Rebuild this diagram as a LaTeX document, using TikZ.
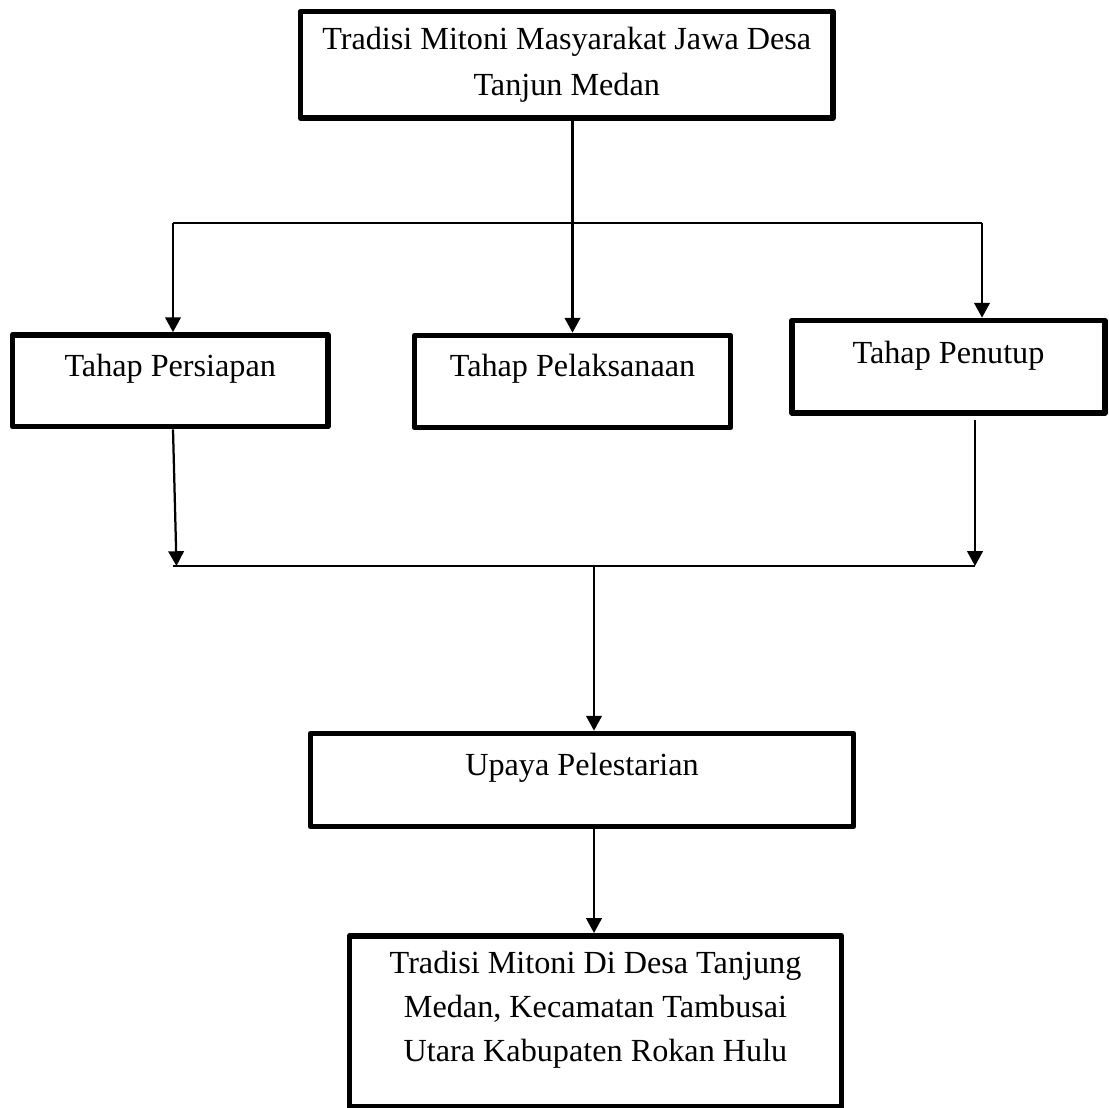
\documentclass[tikz,border=0pt]{standalone}
\usepackage{fontspec}
\setmainfont{Liberation Serif}
\usepackage{tikz}
\usetikzlibrary{arrows.meta}
\newdimen\pxu
\pxu=0.7113pt

\begin{document}
\begin{tikzpicture}[x=0.025cm,y=-0.025cm,>={Triangle[length=10.5pt,width=11pt]},line width=1.6pt]
\tikzstyle{box}=[draw,line width=4pt,line join=round,inner sep=0pt,align=center,font=\fontsize{22.9pt}{31.3pt}\selectfont]
\useasboundingbox (0,0) rectangle (1109,1108);
\node[box,minimum width=532.5*\pxu,minimum height=106.5*\pxu] (tradisi) at (566.75,64.75) {Tradisi Mitoni Masyarakat Jawa Desa\\[2pt]Tanjun Medan};
\node[box,anchor=base,minimum width=315.5*\pxu,text height=42\pxu,text depth=49.5\pxu] (persiapan) at (170.25,377) {Tahap Persiapan};
\node[box,anchor=base,minimum width=316*\pxu,text height=41.5\pxu,text depth=50.5\pxu] (pelaksanaan) at (572.5,377) {Tahap Pelaksanaan};
\node[box,anchor=base,minimum width=313*\pxu,text height=43.5\pxu,text depth=49\pxu] (penutup) at (948.5,364) {Tahap Penutup};
\node[box,anchor=base,minimum width=543*\pxu,text height=41.5\pxu,text depth=51.5\pxu] (upaya) at (582,775) {Upaya Pelestarian};
\node[box,anchor=north,minimum width=492*\pxu,text height=126\pxu,text depth=45\pxu] (hasil) at (595.5,933) {Tradisi Mitoni Di Desa Tanjung\\Medan, Kecamatan Tambusai\\Utara Kabupaten Rokan Hulu};
% split to the three stages
\coordinate (splitL) at (173,223);
\coordinate (splitR) at (982,223);
\draw (splitL) -- (splitR);
\draw[->] (splitL) -- (splitL |- persiapan.north);
\draw[->] (tradisi.south -| pelaksanaan.north) -- (pelaksanaan.north);
\draw[->] (splitR) -- (splitR |- penutup.north);
% join towards the preservation
\coordinate (joinL) at (173,566);
\coordinate (joinR) at (975,566);
\coordinate (dropL) at (176.5,566);
\coordinate (joinM) at (594,566);
\draw (joinL) -- (joinR);
\draw[->] (persiapan.south -| splitL) -- (dropL);
\draw[->] ([yshift=-4\pxu]penutup.south -| joinR) -- (joinR);
\draw[->] (joinM) -- (joinM |- upaya.north);
\draw[->] (upaya.south -| joinM) -- (joinM |- hasil.north);
\end{tikzpicture}
\end{document}
